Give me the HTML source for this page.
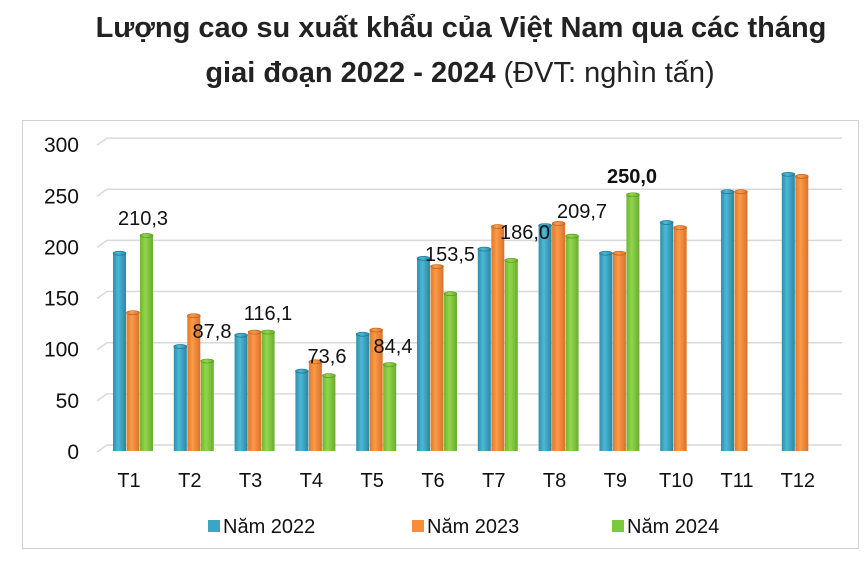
<!DOCTYPE html>
<html><head><meta charset="utf-8"><style>
body{margin:0;width:868px;height:557px;background:#fff;overflow:hidden;font-family:"Liberation Sans",sans-serif}
</style></head><body>
<svg width="868" height="557" xmlns="http://www.w3.org/2000/svg" font-family="Liberation Sans, sans-serif">
<defs>
<linearGradient id="b" x1="0" x2="1"><stop offset="0" stop-color="#2e8fae"/><stop offset=".4" stop-color="#4db8d6"/><stop offset="1" stop-color="#2a86a4"/></linearGradient>
<linearGradient id="o" x1="0" x2="1"><stop offset="0" stop-color="#e07a2a"/><stop offset=".4" stop-color="#fb9a48"/><stop offset="1" stop-color="#d9722a"/></linearGradient>
<linearGradient id="g" x1="0" x2="1"><stop offset="0" stop-color="#6eb52e"/><stop offset=".4" stop-color="#92d64e"/><stop offset="1" stop-color="#68ad2c"/></linearGradient>
</defs>
<text x="461" y="37" text-anchor="middle" font-size="29" font-weight="bold" fill="#222">Lượng cao su xuất khẩu của Việt Nam qua các tháng</text>
<text x="460" y="82" text-anchor="middle" font-size="29" fill="#222"><tspan font-weight="bold">giai đoạn 2022 - 2024</tspan> (ĐVT: nghìn tấn)</text>
<rect x="22.5" y="120.5" width="836" height="428" fill="none" stroke="#d0d0d0"/>
<g id="grid" stroke="#d9d9d9" stroke-width="1.5" fill="none"></g>
<g id="bars"></g>
<g font-size="20" fill="#111" id="lbl"></g>
</svg>
<script>
var ns="http://www.w3.org/2000/svg";
function el(p,t,a,txt){var e=document.createElementNS(ns,t);for(var k in a)e.setAttribute(k,a[k]);if(txt)e.textContent=txt;document.getElementById(p).appendChild(e);return e;}
for(var i=0;i<=6;i++){var v=i*50,y=445-v*1.023;el('grid','path',{d:'M97 '+(y+7)+' L107 '+y+' L842 '+y});
el('lbl','text',{x:79,y:y+14,'text-anchor':'end','font-size':21},String(v));}
var d=[[193,135,210.3],[102,132,87.8],[113,116,116.1],[78,87,73.6],[114,118,84.4],[188,180,153.5],[197,219,186],[220,222,209.7],[193,193,250],[223,218],[253,253],[270,268]];
var f=['url(#b)','url(#o)','url(#g)'],sc=['#1f6f88','#b85e1c','#559324'];
for(var c=0;c<12;c++){var x0=113+c*60.8;
for(var s=0;s<d[c].length;s++){var x=x0+s*13.5,h=d[c][s]*1.025,y=451-h;
el('bars','rect',{x:x,y:y,width:13,height:h,fill:f[s]});
el('bars','ellipse',{cx:x+6.5,cy:y,rx:6.5,ry:2,fill:f[s],stroke:sc[s],'stroke-width':.6});}
el('lbl','text',{x:x0+16,y:487,'text-anchor':'middle'},'T'+(c+1));}
var L=[[143,225,'210,3'],[212,338,'87,8'],[268,320,'116,1'],[327,363,'73,6'],[393,353,'84,4'],[450,261,'153,5'],[525,239,'186,0'],[582,218,'209,7']];
L.forEach(function(a){el('lbl','text',{x:a[0],y:a[1],'text-anchor':'middle'},a[2]);});
el('lbl','text',{x:632,y:183,'text-anchor':'middle','font-weight':'bold'},'250,0');
var lg=[[208,'#3aa6c4','Năm 2022'],[412,'#f58d3a','Năm 2023'],[612,'#7ec83e','Năm 2024']];
lg.forEach(function(a){el('lbl','rect',{x:a[0],y:520,width:12,height:12,fill:a[1]});el('lbl','text',{x:a[0]+15,y:533},a[2]);});
</script>
</body></html>
